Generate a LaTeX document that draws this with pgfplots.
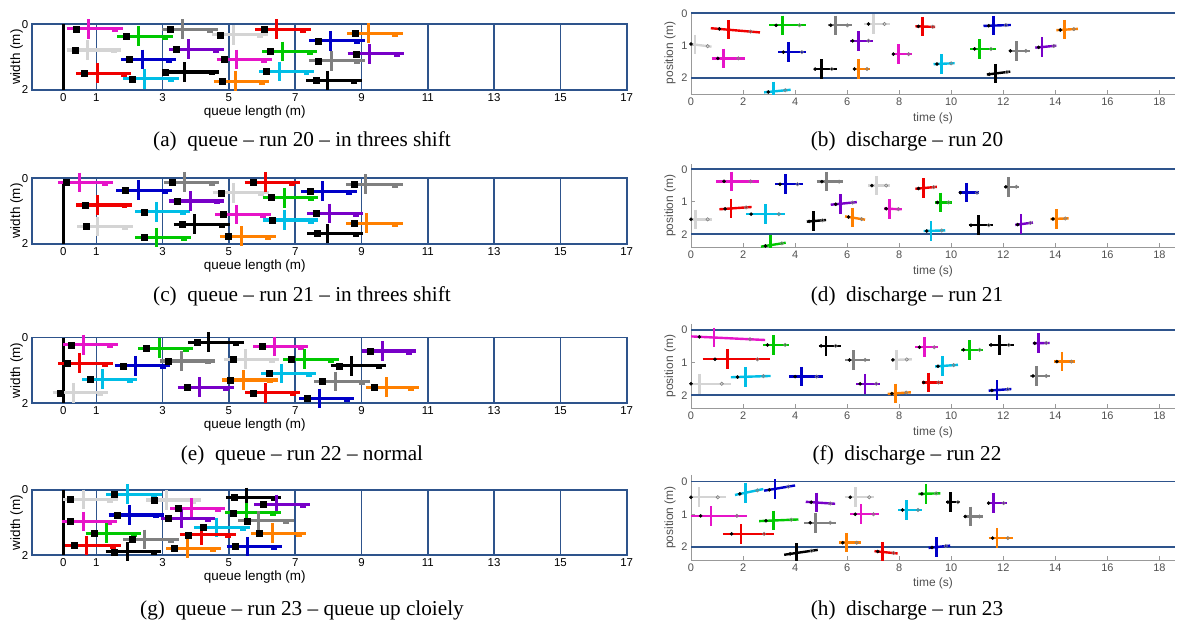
\documentclass[border=0pt]{standalone}
\usepackage{pgfplots}
\pgfplotsset{compat=1.18}
\usepackage{fontspec}
\setmainfont{Liberation Sans}
\newfontfamily\capfont{Liberation Serif}
\definecolor{qblue}{RGB}{46,84,140}
\definecolor{cmag}{RGB}{230,20,200}
\definecolor{cred}{RGB}{240,0,0}
\definecolor{cgreen}{RGB}{0,200,0}
\definecolor{cblue}{RGB}{0,0,200}
\definecolor{ccyan}{RGB}{0,190,230}
\definecolor{cgray}{RGB}{128,128,128}
\definecolor{clgray}{RGB}{212,212,212}
\definecolor{cpurple}{RGB}{120,0,200}
\definecolor{corange}{RGB}{255,128,0}
\definecolor{dtxt}{RGB}{80,80,80}
% queue glyph: colour, x1, x2, y, square x, vertical x
\newcommand{\qg}[6]{%
\pgfmathsetmacro{\ya}{#4-0.3}\pgfmathsetmacro{\yb}{#4+0.3}%
\pgfmathsetmacro{\ca}{#3-0.32}\pgfmathsetmacro{\cb}{#3-0.14}\pgfmathsetmacro{\cy}{#4+0.03}%
\addplot[#1, line width=3.2bp] coordinates {(#2,#4) (#3,#4)};
\addplot[#1, line width=5bp] coordinates {(\ca,\cy) (\cb,\cy)};
\addplot[#1, line width=3bp] coordinates {(#6,\ya) (#6,\yb)};
\addplot[only marks, mark=square*, black, mark size=3bp] coordinates {(#5,#4)};
}
% discharge glyph: colour, x1, y1, x2, y2, dot x, circle x, vertical x
\newcommand{\dg}[8]{%
\pgfmathsetmacro{\yd}{(#3)+((#6)-(#2))/((#4)-(#2))*((#5)-(#3))}%
\pgfmathsetmacro{\yc}{(#3)+((#7)-(#2))/((#4)-(#2))*((#5)-(#3))}%
\pgfmathsetmacro{\yv}{(#3)+((#8)-(#2))/((#4)-(#2))*((#5)-(#3))}%
\pgfmathsetmacro{\ya}{\yv-0.3}\pgfmathsetmacro{\yb}{\yv+0.3}%
\addplot[#1, line width=2.4bp] coordinates {(#2,#3) (#4,#5)};
\addplot[#1, line width=2.8bp] coordinates {(#8,\ya) (#8,\yb)};
\addplot[only marks, mark=*, black, mark size=1.6bp] coordinates {(#6,\yd)};
\addplot[only marks, mark=o, gray, mark size=1.7bp, line width=0.6bp] coordinates {(#7,\yc)};
}
\pgfplotsset{
 qaxis/.style={scale only axis, width=595bp, height=65.7bp, anchor=south west,
  xmin=-0.95, xmax=17, ymin=0, ymax=2, y dir=reverse, clip=false,
  axis line style={qblue, line width=1.6bp},
  xtick={1,3,...,17}, extra x ticks={0}, extra x tick style={grid=none},
  ytick={0,2}, xmajorgrids, grid style={qblue, line width=1.6bp},
  major tick length=0pt,
  /pgf/number format/assume math mode=true,
  tick label style={font=\fontsize{11.5}{12}\selectfont, text=black},
  xlabel={queue length (m)}, ylabel={width (m)},
  label style={font=\fontsize{13.5}{14}\selectfont},
  xlabel style={at={(ticklabel cs:0.375)}, anchor=north, yshift=3bp},
  ylabel style={yshift=-8bp},
 },
 daxis/.style={scale only axis, width=484bp, anchor=south west,
  xmin=0, xmax=18.6, y dir=reverse, clip=true,
  axis x line*=bottom, axis y line*=left,
  axis line style={gray!80, line width=0.8bp, -},
  xtick={0,2,...,18}, ytick={0,1,2},
  tick style={gray!80, line width=0.6bp}, tick align=inside, major tick length=4bp,
  /pgf/number format/assume math mode=true,
  tick label style={font=\fontsize{11}{12}\selectfont, text=dtxt},
  xlabel={time (s)}, ylabel={position (m)},
  label style={font=\fontsize{12}{13}\selectfont, text=dtxt},
  xlabel style={yshift=0bp},
  ylabel style={yshift=-1bp},
 },
}
\newcommand{\corridor}{%
\addplot[qblue, line width=1.8bp] coordinates {(0,0) (18.6,0)};
\addplot[qblue, line width=1.8bp] coordinates {(0,2) (18.6,2)};
}
\begin{document}
\begin{tikzpicture}
\useasboundingbox (0bp,0bp) rectangle (1178bp,623bp);
% ---------------- (a)
\begin{axis}[qaxis, at={(31.7bp,533bp)}]
\addplot[black, line width=3bp] coordinates {(0,0) (0,2)};
\qg{cmag}{0.10}{1.80}{0.14}{0.38}{0.75}
\qg{clgray}{0.10}{1.75}{0.78}{0.35}{0.72}
\qg{cred}{0.38}{2.05}{1.49}{0.64}{1.02}
\qg{cgreen}{1.62}{3.31}{0.36}{1.89}{2.26}
\qg{cblue}{1.75}{3.41}{1.07}{2.00}{2.39}
\qg{ccyan}{1.80}{3.48}{1.66}{2.07}{2.46}
\qg{cgray}{2.99}{4.66}{0.15}{3.23}{3.61}
\qg{cpurple}{3.19}{4.84}{0.76}{3.41}{3.79}
\qg{black}{3.03}{4.71}{1.45}{3.08}{3.66}
\qg{clgray}{4.49}{6.17}{0.32}{4.74}{5.13}
\qg{cmag}{4.63}{6.30}{1.07}{4.87}{5.24}
\qg{corange}{4.54}{6.22}{1.73}{4.79}{5.19}
\qg{cred}{5.80}{7.47}{0.15}{6.05}{6.44}
\qg{cgreen}{6.00}{7.67}{0.83}{6.24}{6.62}
\qg{ccyan}{5.90}{7.57}{1.44}{6.13}{6.52}
\qg{cblue}{7.42}{9.10}{0.50}{7.69}{8.07}
\qg{cgray}{7.42}{9.10}{1.11}{7.69}{8.09}
\qg{black}{7.32}{9.00}{1.71}{7.64}{7.97}
\qg{corange}{8.57}{10.24}{0.27}{8.82}{9.21}
\qg{cpurple}{8.58}{10.29}{0.90}{8.83}{9.24}
\end{axis}
% ---------------- (c)
\begin{axis}[qaxis, at={(31.7bp,379bp)}]
\addplot[black, line width=3bp] coordinates {(0,0.13) (0,2)};
\qg{cmag}{-0.15}{1.50}{0.13}{0.10}{0.48}
\qg{cblue}{1.60}{3.29}{0.36}{1.88}{2.26}
\qg{cred}{0.40}{2.08}{0.81}{0.65}{1.03}
\qg{clgray}{0.43}{2.10}{1.47}{0.68}{1.05}
\qg{ccyan}{2.16}{3.83}{1.02}{2.43}{2.81}
\qg{cgreen}{2.18}{3.86}{1.80}{2.43}{2.81}
\qg{cgray}{3.04}{4.71}{0.12}{3.29}{3.66}
\qg{cpurple}{3.19}{4.86}{0.69}{3.44}{3.83}
\qg{black}{3.33}{5.02}{1.40}{3.58}{3.96}
\qg{clgray}{4.51}{6.20}{0.44}{4.76}{5.15}
\qg{cmag}{4.59}{6.27}{1.10}{4.84}{5.24}
\qg{corange}{4.73}{6.42}{1.76}{4.99}{5.39}
\qg{cred}{5.47}{7.14}{0.12}{5.72}{6.10}
\qg{cgreen}{6.02}{7.70}{0.59}{6.29}{6.67}
\qg{ccyan}{6.02}{7.70}{1.27}{6.30}{6.69}
\qg{cblue}{7.17}{8.85}{0.39}{7.44}{7.82}
\qg{cpurple}{7.37}{9.05}{1.07}{7.64}{8.02}
\qg{black}{7.37}{9.05}{1.68}{7.65}{7.97}
\qg{cgray}{8.53}{10.24}{0.18}{8.78}{9.13}
\qg{corange}{8.53}{10.25}{1.37}{8.78}{9.16}
\end{axis}
% ---------------- (e)
\begin{axis}[qaxis, at={(31.7bp,219.7bp)}]
\addplot[black, line width=3bp] coordinates {(0,0) (0,2)};
\qg{cmag}{0.00}{1.65}{0.22}{0.25}{0.62}
\qg{cred}{-0.15}{1.50}{0.78}{0.12}{0.48}
\qg{ccyan}{0.58}{2.24}{1.27}{0.82}{1.20}
\qg{clgray}{-0.32}{1.35}{1.68}{-0.10}{0.30}
\qg{cblue}{1.55}{3.23}{0.86}{1.81}{2.19}
\qg{cgreen}{2.26}{3.93}{0.32}{2.51}{2.91}
\qg{cgray}{2.91}{4.59}{0.71}{3.18}{3.56}
\qg{black}{3.76}{5.44}{0.14}{4.03}{4.39}
\qg{cpurple}{3.46}{5.15}{1.51}{3.73}{4.11}
\qg{clgray}{4.86}{6.52}{0.66}{5.12}{5.50}
\qg{corange}{4.79}{6.47}{1.29}{5.04}{5.45}
\qg{ccyan}{5.97}{7.64}{1.09}{6.22}{6.60}
\qg{cmag}{5.74}{7.40}{0.27}{5.99}{6.37}
\qg{cred}{5.49}{7.15}{1.68}{5.74}{6.10}
\qg{cgreen}{6.64}{8.32}{0.66}{6.89}{7.27}
\qg{black}{8.07}{9.75}{0.86}{8.32}{8.70}
\qg{cgray}{7.57}{9.25}{1.34}{7.80}{8.20}
\qg{cblue}{7.12}{8.78}{1.85}{7.37}{7.74}
\qg{cpurple}{9.00}{10.65}{0.41}{9.25}{9.63}
\qg{corange}{9.13}{10.73}{1.51}{9.38}{9.75}
\end{axis}
% ---------------- (g)
\begin{axis}[qaxis, at={(31.7bp,68bp)}, height=65bp]
\addplot[black, line width=3bp] coordinates {(0,0) (0,2)};
\qg{clgray}{0.00}{1.65}{0.29}{0.22}{0.60}
\qg{ccyan}{1.30}{2.98}{0.13}{1.55}{1.94}
\qg{clgray}{2.51}{4.16}{0.31}{2.76}{3.11}
\qg{cmag}{-0.03}{1.62}{0.97}{0.22}{0.60}
\qg{cblue}{1.37}{3.04}{0.77}{1.62}{2.00}
\qg{cgreen}{0.68}{2.36}{1.33}{0.95}{1.32}
\qg{cred}{0.05}{1.73}{1.71}{0.32}{0.70}
\qg{black}{1.28}{2.96}{1.90}{1.53}{1.93}
\qg{cgray}{1.81}{3.48}{1.52}{2.07}{2.44}
\qg{cmag}{3.23}{4.89}{0.56}{3.48}{3.86}
\qg{cpurple}{2.94}{4.59}{0.87}{3.18}{3.56}
\qg{ccyan}{3.96}{5.64}{1.15}{4.23}{4.61}
\qg{cred}{3.51}{5.20}{1.38}{3.78}{4.16}
\qg{corange}{3.11}{4.76}{1.79}{3.36}{3.74}
\qg{black}{4.91}{6.58}{0.23}{5.16}{5.53}
\qg{cpurple}{5.77}{7.45}{0.44}{6.04}{6.42}
\qg{cgreen}{4.89}{6.57}{0.70}{5.14}{5.52}
\qg{cgray}{5.28}{6.95}{0.95}{5.54}{5.90}
\qg{corange}{5.67}{7.34}{1.33}{5.92}{6.30}
\qg{cblue}{4.93}{6.60}{1.74}{5.18}{5.57}
\end{axis}
% ---------------- (b)
\begin{axis}[daxis, at={(691bp,528.7bp)}, height=82.6bp, ymin=-0.05, ymax=2.5]
\corridor
\dg{clgray}{0}{0.95}{0.79}{1.03}{0.0}{0.64}{0.15}
\dg{cred}{0.76}{0.46}{2.65}{0.59}{1.09}{2.29}{1.44}
\dg{cmag}{0.79}{1.39}{2.08}{1.39}{1.03}{1.82}{1.24}
\dg{cgreen}{3.01}{0.37}{4.41}{0.37}{3.27}{4.17}{3.53}
\dg{cblue}{3.36}{1.20}{4.42}{1.20}{3.55}{4.26}{3.74}
\dg{ccyan}{2.81}{2.44}{3.83}{2.36}{2.97}{3.62}{3.17}
\dg{cgray}{5.26}{0.37}{6.18}{0.37}{5.37}{6.01}{5.56}
\dg{clgray}{6.65}{0.33}{7.63}{0.33}{6.82}{7.44}{7.01}
\dg{black}{4.71}{1.72}{5.60}{1.72}{4.77}{5.41}{5.03}
\dg{cpurple}{6.12}{0.85}{6.99}{0.85}{6.21}{6.82}{6.44}
\dg{corange}{6.21}{1.72}{6.86}{1.72}{6.28}{6.76}{6.44}
\dg{cmag}{7.72}{1.26}{8.49}{1.26}{7.78}{8.36}{7.97}
\dg{cred}{8.62}{0.40}{9.38}{0.42}{8.74}{9.29}{8.90}
\dg{ccyan}{9.32}{1.57}{10.13}{1.54}{9.45}{10.00}{9.62}
\dg{cgreen}{10.73}{1.10}{11.73}{1.10}{10.90}{11.53}{11.09}
\dg{cblue}{11.24}{0.39}{12.29}{0.36}{11.44}{12.10}{11.63}
\dg{black}{11.37}{1.89}{12.27}{1.80}{11.46}{12.14}{11.69}
\dg{cgray}{12.21}{1.16}{13.01}{1.16}{12.27}{12.87}{12.50}
\dg{cpurple}{13.23}{1.06}{14.04}{1.00}{13.36}{13.94}{13.49}
\dg{corange}{14.04}{0.52}{14.87}{0.48}{14.19}{14.71}{14.35}
\end{axis}
% ---------------- (d)
\begin{axis}[daxis, at={(691bp,375.7bp)}, height=83.2bp, ymin=-0.16, ymax=2.4]
\corridor
\dg{clgray}{0}{1.54}{0.79}{1.54}{0}{0.64}{0.18}
\dg{cmag}{0.96}{0.37}{2.62}{0.37}{1.27}{2.29}{1.56}
\dg{cred}{1.09}{1.23}{2.33}{1.16}{1.31}{2.12}{1.54}
\dg{ccyan}{2.12}{1.38}{3.62}{1.38}{2.31}{3.38}{2.87}
\dg{cblue}{3.23}{0.46}{4.32}{0.46}{3.42}{4.09}{3.62}
\dg{cgreen}{2.69}{2.38}{3.64}{2.26}{2.86}{3.49}{3.04}
\dg{cgray}{4.83}{0.38}{5.86}{0.38}{5.03}{5.69}{5.22}
\dg{black}{4.45}{1.61}{5.19}{1.56}{4.54}{5.05}{4.71}
\dg{cpurple}{5.37}{1.09}{6.37}{1.01}{5.56}{6.21}{5.73}
\dg{corange}{5.92}{1.45}{6.69}{1.55}{6.05}{6.56}{6.22}
\dg{clgray}{6.82}{0.50}{7.65}{0.50}{6.95}{7.50}{7.12}
\dg{cmag}{7.42}{1.21}{8.10}{1.23}{7.50}{7.97}{7.63}
\dg{cred}{8.62}{0.60}{9.45}{0.54}{8.74}{9.32}{8.94}
\dg{cgreen}{9.38}{1.02}{10.03}{1.02}{9.47}{9.90}{9.58}
\dg{ccyan}{8.94}{1.90}{9.77}{1.88}{9.06}{9.64}{9.22}
\dg{cblue}{10.28}{0.72}{11.08}{0.72}{10.35}{10.99}{10.60}
\dg{black}{10.67}{1.72}{11.60}{1.72}{10.76}{11.44}{11.05}
\dg{cgray}{12.01}{0.54}{12.62}{0.54}{12.10}{12.50}{12.21}
\dg{cpurple}{12.46}{1.71}{13.14}{1.64}{12.55}{13.04}{12.68}
\dg{corange}{13.81}{1.53}{14.51}{1.51}{13.91}{14.38}{14.04}
\end{axis}
% ---------------- (f)
\begin{axis}[daxis, at={(691bp,214.7bp)}, height=84.3bp, ymin=-0.18, ymax=2.4]
\corridor
\dg{cmag}{0}{0.20}{2.85}{0.31}{0.32}{2.27}{0.88}
\dg{cred}{0.45}{0.90}{3.04}{0.90}{0.92}{2.55}{1.40}
\dg{clgray}{0}{1.65}{1.54}{1.65}{0}{1.18}{0.32}
\dg{ccyan}{1.53}{1.45}{3.06}{1.41}{1.79}{2.78}{2.08}
\dg{cgreen}{2.78}{0.46}{3.77}{0.46}{2.94}{3.62}{3.17}
\dg{cblue}{3.78}{1.43}{5.09}{1.43}{4.00}{4.83}{4.26}
\dg{black}{4.90}{0.49}{5.76}{0.49}{5.00}{5.56}{5.19}
\dg{cgray}{5.92}{0.92}{6.86}{0.92}{6.09}{6.69}{6.24}
\dg{cpurple}{6.35}{1.65}{7.27}{1.65}{6.50}{7.12}{6.69}
\dg{corange}{7.56}{1.96}{8.45}{1.91}{7.72}{8.27}{7.87}
\dg{clgray}{7.74}{0.92}{8.49}{0.90}{7.76}{8.29}{7.91}
\dg{cmag}{8.62}{0.53}{9.51}{0.53}{8.78}{9.35}{8.96}
\dg{cred}{8.87}{1.61}{9.67}{1.61}{8.94}{9.51}{9.13}
\dg{ccyan}{9.38}{1.12}{10.26}{1.07}{9.49}{10.09}{9.68}
\dg{cgreen}{10.38}{0.61}{11.24}{0.61}{10.47}{11.09}{10.69}
\dg{black}{11.44}{0.46}{12.40}{0.46}{11.53}{12.21}{11.86}
\dg{cblue}{11.44}{1.86}{12.31}{1.81}{11.56}{12.17}{11.76}
\dg{cpurple}{13.14}{0.41}{13.78}{0.40}{13.21}{13.65}{13.36}
\dg{cgray}{13.04}{1.41}{13.78}{1.41}{13.14}{13.65}{13.29}
\dg{corange}{13.96}{0.97}{14.77}{0.97}{14.06}{14.62}{14.26}
\end{axis}
% ---------------- (h)
\begin{axis}[daxis, at={(691bp,63bp)}, height=85bp, ymin=-0.2, ymax=2.4]
\corridor
\dg{clgray}{0}{0.48}{1.35}{0.48}{0}{1.03}{0.31}
\dg{ccyan}{1.69}{0.41}{2.78}{0.23}{1.88}{2.55}{2.10}
\dg{cblue}{2.81}{0.28}{4.00}{0.12}{3.01}{3.74}{3.23}
\dg{cmag}{0}{1.05}{2.17}{1.05}{0.37}{1.76}{0.77}
\dg{cred}{1.22}{1.60}{3.19}{1.60}{1.56}{2.81}{1.92}
\dg{cgreen}{2.62}{1.21}{4.13}{1.16}{2.88}{3.85}{3.17}
\dg{black}{3.58}{2.24}{4.87}{2.09}{3.81}{4.64}{4.04}
\dg{cpurple}{4.41}{0.62}{5.54}{0.68}{4.62}{5.35}{4.81}
\dg{cgray}{4.35}{1.26}{5.56}{1.26}{4.58}{5.35}{4.79}
\dg{corange}{5.69}{1.87}{6.53}{1.87}{5.83}{6.37}{5.99}
\dg{clgray}{5.90}{0.48}{7.05}{0.48}{6.12}{6.85}{6.31}
\dg{cmag}{6.12}{1.00}{7.23}{1.00}{6.31}{7.01}{6.53}
\dg{cred}{7.05}{2.13}{7.94}{2.20}{7.18}{7.78}{7.36}
\dg{ccyan}{7.97}{0.87}{8.87}{0.87}{8.13}{8.72}{8.29}
\dg{cgreen}{8.74}{0.38}{9.58}{0.36}{8.87}{9.42}{9.03}
\dg{cblue}{9.13}{2.03}{9.96}{1.96}{9.26}{9.79}{9.42}
\dg{black}{9.81}{0.63}{10.35}{0.63}{9.87}{10.26}{9.96}
\dg{cgray}{10.50}{1.07}{11.22}{1.07}{10.54}{11.09}{10.73}
\dg{cpurple}{11.40}{0.66}{12.14}{0.66}{11.44}{12.01}{11.63}
\dg{corange}{11.44}{1.73}{12.37}{1.73}{11.59}{12.18}{11.76}
\end{axis}
% ---------------- captions
\begin{scope}[every node/.style={anchor=base, inner sep=0pt, font=\capfont\fontsize{21.3}{23}\selectfont}]
\node at (302bp,476bp) {(a)\enspace queue – run 20 – in threes shift};
\node at (907bp,476bp) {(b)\enspace discharge – run 20};
\node at (302bp,321bp) {(c)\enspace queue – run 21 – in threes shift};
\node at (907bp,321bp) {(d)\enspace discharge – run 21};
\node at (302bp,162bp) {(e)\enspace queue – run 22 – normal};
\node at (907bp,162bp) {(f)\enspace discharge – run 22};
\node at (302bp,8bp) {(g)\enspace queue – run 23 – queue up cloiely};
\node at (907bp,8bp) {(h)\enspace discharge – run 23};
\end{scope}
\end{tikzpicture}
\end{document}
